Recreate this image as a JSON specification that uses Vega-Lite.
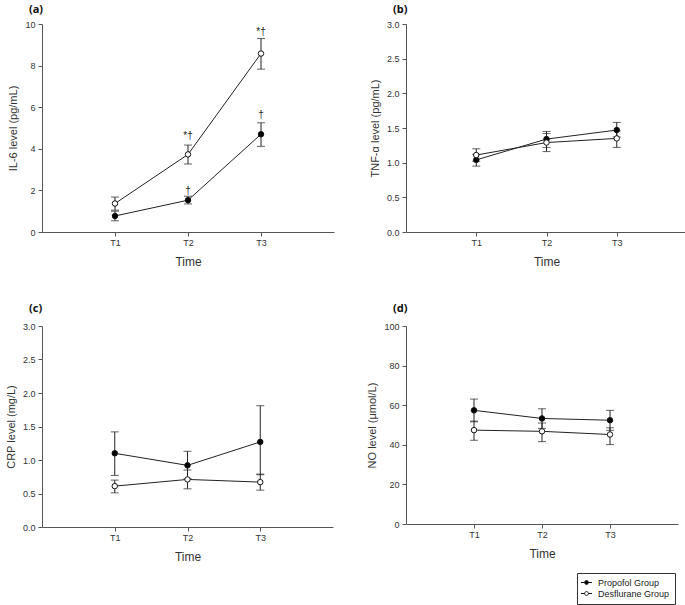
{
  "$schema": "https://vega.github.io/schema/vega-lite/v6.json",
  "padding": {"left": 5, "top": 4, "right": 5, "bottom": 2},
  "datasets": {
    "il6": [
      {"t": 1, "group": "Propofol Group", "mean": 0.77, "lo": 0.54, "hi": 1.0},
      {"t": 2, "group": "Propofol Group", "mean": 1.53, "lo": 1.35, "hi": 1.72},
      {"t": 3, "group": "Propofol Group", "mean": 4.7, "lo": 4.12, "hi": 5.25},
      {"t": 1, "group": "Desflurane Group", "mean": 1.37, "lo": 1.05, "hi": 1.68},
      {"t": 2, "group": "Desflurane Group", "mean": 3.73, "lo": 3.27, "hi": 4.18},
      {"t": 3, "group": "Desflurane Group", "mean": 8.58, "lo": 7.83, "hi": 9.3}
    ],
    "il6notes": [
      {"t": 2, "y": 4.6, "label": "*†"},
      {"t": 3, "y": 9.62, "label": "*†"},
      {"t": 2, "y": 1.95, "label": "†"},
      {"t": 3, "y": 5.62, "label": "†"}
    ],
    "tnf": [
      {"t": 1, "group": "Propofol Group", "mean": 1.04, "lo": 0.95, "hi": 1.12},
      {"t": 2, "group": "Propofol Group", "mean": 1.34, "lo": 1.22, "hi": 1.45},
      {"t": 3, "group": "Propofol Group", "mean": 1.47, "lo": 1.37, "hi": 1.58},
      {"t": 1, "group": "Desflurane Group", "mean": 1.11, "lo": 1.02, "hi": 1.2},
      {"t": 2, "group": "Desflurane Group", "mean": 1.29, "lo": 1.16, "hi": 1.42},
      {"t": 3, "group": "Desflurane Group", "mean": 1.35, "lo": 1.22, "hi": 1.46}
    ],
    "crp": [
      {"t": 1, "group": "Propofol Group", "mean": 1.1, "lo": 0.77, "hi": 1.42},
      {"t": 2, "group": "Propofol Group", "mean": 0.92, "lo": 0.72, "hi": 1.13},
      {"t": 3, "group": "Propofol Group", "mean": 1.27, "lo": 0.78, "hi": 1.81},
      {"t": 1, "group": "Desflurane Group", "mean": 0.61, "lo": 0.51, "hi": 0.7},
      {"t": 2, "group": "Desflurane Group", "mean": 0.71, "lo": 0.57, "hi": 0.85},
      {"t": 3, "group": "Desflurane Group", "mean": 0.67, "lo": 0.55, "hi": 0.79}
    ],
    "no": [
      {"t": 1, "group": "Propofol Group", "mean": 57.4, "lo": 51.6, "hi": 63.1},
      {"t": 2, "group": "Propofol Group", "mean": 53.3, "lo": 48.3, "hi": 58.2},
      {"t": 3, "group": "Propofol Group", "mean": 52.4, "lo": 47.3, "hi": 57.4},
      {"t": 1, "group": "Desflurane Group", "mean": 47.4, "lo": 42.3, "hi": 52.0},
      {"t": 2, "group": "Desflurane Group", "mean": 46.8, "lo": 41.6, "hi": 51.0},
      {"t": 3, "group": "Desflurane Group", "mean": 45.2, "lo": 40.1, "hi": 48.6}
    ]
  },
  "columns": 2,
  "spacing": {"row": 36, "column": 32},
  "resolve": {"scale": {"fill": "shared"}},
  "concat": [
    {
      "width": 292, "height": 208,
      "title": {"text": "(a)", "anchor": "start", "frame": "group", "dx": -13, "offset": 5},
      "data": {"name": "il6"},
      "layer": [
        {"mark": {"type": "line", "color": "#222", "strokeWidth": 1},
         "encoding": {
           "x": {"field": "t", "type": "quantitative", "scale": {"domain": [0, 4], "nice": false}, "axis": {"values": [1, 2, 3], "labelExpr": "'T' + datum.value", "title": "Time"}},
           "y": {"field": "mean", "type": "quantitative", "scale": {"domain": [0, 10], "nice": false}, "axis": {"values": [0, 2, 4, 6, 8, 10], "labelOverlap": false, "title": "IL-6 level (pg/mL)"}},
           "detail": {"field": "group"}}},
        {"mark": {"type": "rule", "color": "#222", "strokeWidth": 1},
         "encoding": {"x": {"field": "t", "type": "quantitative", "axis": {"values": [1, 2, 3], "labelExpr": "'T' + datum.value", "title": "Time"}}, "y": {"field": "lo", "type": "quantitative", "axis": {"values": [0, 2, 4, 6, 8, 10], "labelOverlap": false, "title": "IL-6 level (pg/mL)"}}, "y2": {"field": "hi"}}},
        {"mark": {"type": "tick", "orient": "horizontal", "color": "#222", "size": 8, "thickness": 1},
         "encoding": {"x": {"field": "t", "type": "quantitative", "axis": {"values": [1, 2, 3], "labelExpr": "'T' + datum.value", "title": "Time"}}, "y": {"field": "lo", "type": "quantitative", "axis": {"values": [0, 2, 4, 6, 8, 10], "labelOverlap": false, "title": "IL-6 level (pg/mL)"}}}},
        {"mark": {"type": "tick", "orient": "horizontal", "color": "#222", "size": 8, "thickness": 1},
         "encoding": {"x": {"field": "t", "type": "quantitative", "axis": {"values": [1, 2, 3], "labelExpr": "'T' + datum.value", "title": "Time"}}, "y": {"field": "hi", "type": "quantitative", "axis": {"values": [0, 2, 4, 6, 8, 10], "labelOverlap": false, "title": "IL-6 level (pg/mL)"}}}},
        {"mark": {"type": "point", "shape": "circle", "filled": true, "stroke": "#111", "strokeWidth": 1, "size": 30, "opacity": 1},
         "encoding": {"x": {"field": "t", "type": "quantitative", "axis": {"values": [1, 2, 3], "labelExpr": "'T' + datum.value", "title": "Time"}}, "y": {"field": "mean", "type": "quantitative", "axis": {"values": [0, 2, 4, 6, 8, 10], "labelOverlap": false, "title": "IL-6 level (pg/mL)"}},
           "fill": {"field": "group", "type": "nominal", "scale": {"domain": ["Propofol Group", "Desflurane Group"], "range": ["black", "white"]},
             "legend": {"title": null, "orient": "none", "legendX": 535, "legendY": 549}}}},
        {"data": {"name": "il6notes"},
         "mark": {"type": "text", "fontSize": 10, "font": "Liberation Sans", "color": "#222"},
         "encoding": {"x": {"field": "t", "type": "quantitative", "axis": {"values": [1, 2, 3], "labelExpr": "'T' + datum.value", "title": "Time"}}, "y": {"field": "y", "type": "quantitative", "axis": {"values": [0, 2, 4, 6, 8, 10], "labelOverlap": false, "title": "IL-6 level (pg/mL)"}}, "text": {"field": "label"}}}
      ]
    },
    {
      "width": 281, "height": 208,
      "title": {"text": "(b)", "anchor": "start", "frame": "group", "dx": -13, "offset": 5},
      "data": {"name": "tnf"},
      "layer": [
        {"mark": {"type": "line", "color": "#222", "strokeWidth": 1},
         "encoding": {
           "x": {"field": "t", "type": "quantitative", "scale": {"domain": [0, 4], "nice": false}, "axis": {"values": [1, 2, 3], "labelExpr": "'T' + datum.value", "title": "Time"}},
           "y": {"field": "mean", "type": "quantitative", "scale": {"domain": [0, 3], "nice": false}, "axis": {"values": [0, 0.5, 1, 1.5, 2, 2.5, 3], "labelOverlap": false, "format": ".1f", "title": "TNF-α level (pg/mL)"}},
           "detail": {"field": "group"}}},
        {"mark": {"type": "rule", "color": "#222", "strokeWidth": 1},
         "encoding": {"x": {"field": "t", "type": "quantitative", "axis": {"values": [1, 2, 3], "labelExpr": "'T' + datum.value", "title": "Time"}}, "y": {"field": "lo", "type": "quantitative", "axis": {"values": [0, 0.5, 1, 1.5, 2, 2.5, 3], "labelOverlap": false, "format": ".1f", "title": "TNF-α level (pg/mL)"}}, "y2": {"field": "hi"}}},
        {"mark": {"type": "tick", "orient": "horizontal", "color": "#222", "size": 8, "thickness": 1},
         "encoding": {"x": {"field": "t", "type": "quantitative", "axis": {"values": [1, 2, 3], "labelExpr": "'T' + datum.value", "title": "Time"}}, "y": {"field": "lo", "type": "quantitative", "axis": {"values": [0, 0.5, 1, 1.5, 2, 2.5, 3], "labelOverlap": false, "format": ".1f", "title": "TNF-α level (pg/mL)"}}}},
        {"mark": {"type": "tick", "orient": "horizontal", "color": "#222", "size": 8, "thickness": 1},
         "encoding": {"x": {"field": "t", "type": "quantitative", "axis": {"values": [1, 2, 3], "labelExpr": "'T' + datum.value", "title": "Time"}}, "y": {"field": "hi", "type": "quantitative", "axis": {"values": [0, 0.5, 1, 1.5, 2, 2.5, 3], "labelOverlap": false, "format": ".1f", "title": "TNF-α level (pg/mL)"}}}},
        {"mark": {"type": "point", "shape": "circle", "filled": true, "stroke": "#111", "strokeWidth": 1, "size": 30, "opacity": 1},
         "encoding": {"x": {"field": "t", "type": "quantitative", "axis": {"values": [1, 2, 3], "labelExpr": "'T' + datum.value", "title": "Time"}}, "y": {"field": "mean", "type": "quantitative", "axis": {"values": [0, 0.5, 1, 1.5, 2, 2.5, 3], "labelOverlap": false, "format": ".1f", "title": "TNF-α level (pg/mL)"}},
           "fill": {"field": "group", "type": "nominal", "scale": {"domain": ["Propofol Group", "Desflurane Group"], "range": ["black", "white"]},
             "legend": {"title": null, "orient": "none", "legendX": 535, "legendY": 549}}}}
      ]
    },
    {
      "width": 291, "height": 201,
      "title": {"text": "(c)", "anchor": "start", "frame": "group", "dx": -13, "offset": 8},
      "data": {"name": "crp"},
      "layer": [
        {"mark": {"type": "line", "color": "#222", "strokeWidth": 1},
         "encoding": {
           "x": {"field": "t", "type": "quantitative", "scale": {"domain": [0, 4], "nice": false}, "axis": {"values": [1, 2, 3], "labelExpr": "'T' + datum.value", "title": "Time"}},
           "y": {"field": "mean", "type": "quantitative", "scale": {"domain": [0, 3], "nice": false}, "axis": {"values": [0, 0.5, 1, 1.5, 2, 2.5, 3], "labelOverlap": false, "format": ".1f", "title": "CRP level (mg/L)"}},
           "detail": {"field": "group"}}},
        {"mark": {"type": "rule", "color": "#222", "strokeWidth": 1},
         "encoding": {"x": {"field": "t", "type": "quantitative", "axis": {"values": [1, 2, 3], "labelExpr": "'T' + datum.value", "title": "Time"}}, "y": {"field": "lo", "type": "quantitative", "axis": {"values": [0, 0.5, 1, 1.5, 2, 2.5, 3], "labelOverlap": false, "format": ".1f", "title": "CRP level (mg/L)"}}, "y2": {"field": "hi"}}},
        {"mark": {"type": "tick", "orient": "horizontal", "color": "#222", "size": 8, "thickness": 1},
         "encoding": {"x": {"field": "t", "type": "quantitative", "axis": {"values": [1, 2, 3], "labelExpr": "'T' + datum.value", "title": "Time"}}, "y": {"field": "lo", "type": "quantitative", "axis": {"values": [0, 0.5, 1, 1.5, 2, 2.5, 3], "labelOverlap": false, "format": ".1f", "title": "CRP level (mg/L)"}}}},
        {"mark": {"type": "tick", "orient": "horizontal", "color": "#222", "size": 8, "thickness": 1},
         "encoding": {"x": {"field": "t", "type": "quantitative", "axis": {"values": [1, 2, 3], "labelExpr": "'T' + datum.value", "title": "Time"}}, "y": {"field": "hi", "type": "quantitative", "axis": {"values": [0, 0.5, 1, 1.5, 2, 2.5, 3], "labelOverlap": false, "format": ".1f", "title": "CRP level (mg/L)"}}}},
        {"mark": {"type": "point", "shape": "circle", "filled": true, "stroke": "#111", "strokeWidth": 1, "size": 30, "opacity": 1},
         "encoding": {"x": {"field": "t", "type": "quantitative", "axis": {"values": [1, 2, 3], "labelExpr": "'T' + datum.value", "title": "Time"}}, "y": {"field": "mean", "type": "quantitative", "axis": {"values": [0, 0.5, 1, 1.5, 2, 2.5, 3], "labelOverlap": false, "format": ".1f", "title": "CRP level (mg/L)"}},
           "fill": {"field": "group", "type": "nominal", "scale": {"domain": ["Propofol Group", "Desflurane Group"], "range": ["black", "white"]},
             "legend": {"title": null, "orient": "none", "legendX": 535, "legendY": 549}}}}
      ]
    },
    {
      "width": 272, "height": 198,
      "title": {"text": "(d)", "anchor": "start", "frame": "group", "dx": -13, "offset": 8},
      "data": {"name": "no"},
      "layer": [
        {"mark": {"type": "line", "color": "#222", "strokeWidth": 1},
         "encoding": {
           "x": {"field": "t", "type": "quantitative", "scale": {"domain": [0, 4], "nice": false}, "axis": {"values": [1, 2, 3], "labelExpr": "'T' + datum.value", "title": "Time"}},
           "y": {"field": "mean", "type": "quantitative", "scale": {"domain": [0, 100], "nice": false}, "axis": {"values": [0, 20, 40, 60, 80, 100], "labelOverlap": false, "title": "NO level (μmol/L)"}},
           "detail": {"field": "group"}}},
        {"mark": {"type": "rule", "color": "#222", "strokeWidth": 1},
         "encoding": {"x": {"field": "t", "type": "quantitative", "axis": {"values": [1, 2, 3], "labelExpr": "'T' + datum.value", "title": "Time"}}, "y": {"field": "lo", "type": "quantitative", "axis": {"values": [0, 20, 40, 60, 80, 100], "labelOverlap": false, "title": "NO level (μmol/L)"}}, "y2": {"field": "hi"}}},
        {"mark": {"type": "tick", "orient": "horizontal", "color": "#222", "size": 8, "thickness": 1},
         "encoding": {"x": {"field": "t", "type": "quantitative", "axis": {"values": [1, 2, 3], "labelExpr": "'T' + datum.value", "title": "Time"}}, "y": {"field": "lo", "type": "quantitative", "axis": {"values": [0, 20, 40, 60, 80, 100], "labelOverlap": false, "title": "NO level (μmol/L)"}}}},
        {"mark": {"type": "tick", "orient": "horizontal", "color": "#222", "size": 8, "thickness": 1},
         "encoding": {"x": {"field": "t", "type": "quantitative", "axis": {"values": [1, 2, 3], "labelExpr": "'T' + datum.value", "title": "Time"}}, "y": {"field": "hi", "type": "quantitative", "axis": {"values": [0, 20, 40, 60, 80, 100], "labelOverlap": false, "title": "NO level (μmol/L)"}}}},
        {"mark": {"type": "point", "shape": "circle", "filled": true, "stroke": "#111", "strokeWidth": 1, "size": 30, "opacity": 1},
         "encoding": {"x": {"field": "t", "type": "quantitative", "axis": {"values": [1, 2, 3], "labelExpr": "'T' + datum.value", "title": "Time"}}, "y": {"field": "mean", "type": "quantitative", "axis": {"values": [0, 20, 40, 60, 80, 100], "labelOverlap": false, "title": "NO level (μmol/L)"}},
           "fill": {"field": "group", "type": "nominal", "scale": {"domain": ["Propofol Group", "Desflurane Group"], "range": ["black", "white"]},
             "legend": {"title": null, "orient": "none", "legendX": 535, "legendY": 549}}}}
      ]
    }
  ],
  "config": {
    "view": {"stroke": null},
    "font": "Liberation Sans",
    "title": {"font": "Noto Sans", "fontSize": 11, "fontWeight": "bold", "color": "#111"},
    "axis": {
      "grid": false,
      "domainColor": "#555",
      "tickColor": "#555",
      "tickSize": 4,
      "labelFont": "Liberation Sans",
      "labelFontSize": 9,
      "labelColor": "#333",
      "labelPadding": 3,
      "labelOverlap": false,
      "titleFont": "Liberation Sans",
      "titleFontWeight": "normal",
      "titleColor": "#333"
    },
    "axisX": {"titleFontSize": 12, "titlePadding": 9, "labelPadding": 2},
    "axisY": {"titleFontSize": 11, "titlePadding": 6},
    "legend": {
      "strokeColor": "#333",
      "fillColor": "white",
      "padding": 5,
      "labelFont": "Liberation Sans",
      "labelFontSize": 9,
      "labelColor": "#222",
      "labelOffset": 7,
      "symbolType": "M-2,0H-0.7M0.7,0H2M-0.7,0A0.7,0.7,0,1,1,0.7,0A0.7,0.7,0,1,1,-0.7,0",
      "symbolSize": 30,
      "symbolStrokeColor": "#111",
      "symbolStrokeWidth": 1,
      "rowPadding": 1,
      "cornerRadius": 0
    }
  }
}
